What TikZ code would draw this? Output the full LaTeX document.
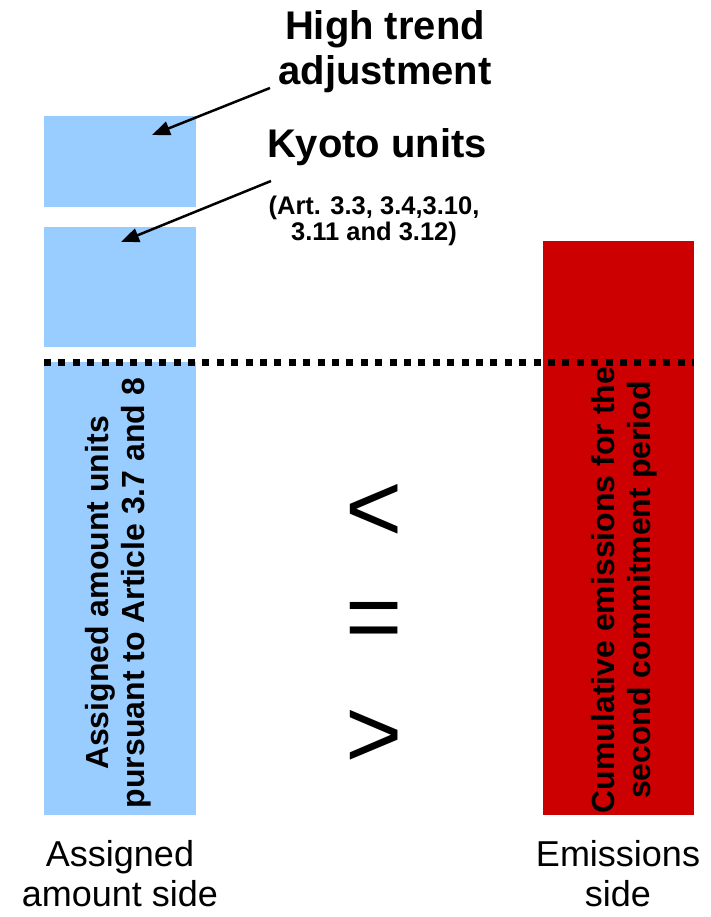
\documentclass[tikz,border=0pt]{standalone}
\usepackage{fontspec}
\setmainfont{Liberation Sans}
\usetikzlibrary{arrows.meta}
\definecolor{unitblue}{HTML}{99CCFF}
\definecolor{emitred}{HTML}{CC0000}
\begin{document}
\begin{tikzpicture}[x=1pt,y=-1pt,
  box/.style={fill=#1, draw=none, inner sep=0, outer sep=0},
  head/.style={font=\bfseries\fontsize{40}{45}\selectfont, align=center, inner sep=0},
  sub/.style={font=\bfseries\fontsize{25.5}{26}\selectfont, align=center, inner sep=0},
  vtext/.style={font=\bfseries\fontsize{32}{36}\selectfont, align=center, inner sep=0, rotate=90},
  foot/.style={font=\fontsize{36}{40}\selectfont, align=center, inner sep=0},
  rel/.style={font=\fontsize{98}{100}\selectfont, inner sep=0},
  pointer/.style={line width=2.5pt, -{Triangle[length=18pt,width=14pt]}},
  dotline/.style={line width=7pt, dash pattern=on 7pt off 7.4pt}]
\useasboundingbox (0,0) rectangle (711,917);

% stacked bars of the assigned amount side
\node[box=unitblue, minimum width=152, minimum height=91]  (hta)  at (120,161.5) {};
\node[box=unitblue, minimum width=152, minimum height=120] (kyo)  at (120,287)   {};
\node[box=unitblue, minimum width=152, minimum height=453] (aau)  at (120,588.5) {};
% emissions bar
\node[box=emitred,  minimum width=151, minimum height=574] (emis) at (618.5,528) {};

% reference level across both bars
\draw[dotline] (aau.north west) -- (aau.north west -| emis.east);

% labels inside the bars
\node[vtext] (aautext) at (118,593) {Assigned amount units\\pursuant to Article 3.7 and 8};
\node[vtext] (emistext) at (624,590) {Cumulative emissions for the\\second commitment period};

% headings with pointers
\node[head] (htatext) at (385,52) {High trend\\adjustment};
\node[head, anchor=base] (kyotext) at (377,158) {Kyoto units};
\node[sub] (arttext) at (374,221) {(Art. 3.3, 3.4,3.10,\\3.11 and 3.12)};

\coordinate (p1s) at (270,88);
\coordinate (p1e) at (152,135);
\coordinate (p2s) at (271,181);
\coordinate (p2e) at (121,242);
\draw[pointer] (p1s) -- (p1e);
\draw[pointer] (p2s) -- (p2e);

% relation between the two sides
\node[rel] (lt) at (374,513) {<};
\node[rel] (eq) at (374.5,626) {=};
\node[rel] (gt) at (374,739) {>};

% side captions
\node[foot] (aside) at (120,874) {Assigned\\amount side};
\node[foot] (eside) at (618,874) {Emissions\\side};
\end{tikzpicture}
\end{document}
